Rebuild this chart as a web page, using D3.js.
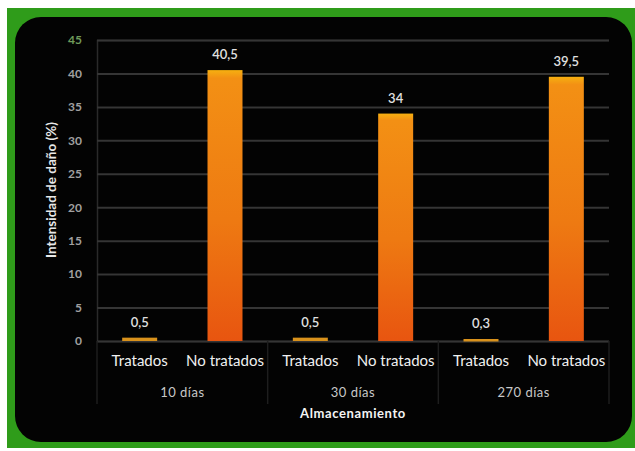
<!DOCTYPE html>
<html><head><meta charset="utf-8">
<script src="https://cdn.jsdelivr.net/npm/d3@7"></script>
<style>html,body{margin:0;padding:0;background:#fff;}svg{display:block;}</style>
</head><body>
<svg id="chart" width="635" height="451"></svg>
<script>
const groups = ["10 días", "30 días", "270 días"];
const treatments = ["Tratados", "No tratados"];
const values = [0.5, 40.5, 0.5, 34, 0.3, 39.5];
const valueLabels = ["0,5", "40,5", "0,5", "34", "0,3", "39,5"];
const yTicks = [0, 5, 10, 15, 20, 25, 30, 35, 40, 45];

const svg = d3.select("#chart");
const W = 635, H = 451;
const F = "Lato, 'Open Sans', sans-serif";

svg.append("rect").attr("x", 7).attr("y", 8).attr("width", W - 7).attr("height", 440).attr("fill", "#2f9c1a");
svg.append("rect").attr("x", 15).attr("y", 17).attr("width", 617).attr("height", 425).attr("rx", 26).attr("fill", "#030303");

const m = {left: 97, right: 609, top: 40, bottom: 341};
const cats = [];
groups.forEach((g, gi) => treatments.forEach((t, ti) => cats.push({g, t, key: gi + "-" + ti})));
const data = cats.map((c, i) => ({...c, v: values[i], lab: valueLabels[i]}));

const x = d3.scaleBand().domain(data.map(d => d.key)).range([m.left, m.right]).paddingInner(0.59).paddingOuter(0.295);
const y = d3.scaleLinear().domain([0, 45]).range([m.bottom, m.top]);

const defs = svg.append("defs");
const gr = defs.append("linearGradient").attr("id", "barg").attr("x1", 0).attr("y1", 0).attr("x2", 0).attr("y2", 1);
gr.append("stop").attr("offset", "0%").attr("stop-color", "#f6b010");
gr.append("stop").attr("offset", "3%").attr("stop-color", "#f39014");
gr.append("stop").attr("offset", "55%").attr("stop-color", "#ee7a12");
gr.append("stop").attr("offset", "100%").attr("stop-color", "#e85510");

// grid
const yAxis = d3.axisLeft(y).tickValues(yTicks).tickSize(-(m.right - m.left)).tickPadding(15);
const ya = svg.append("g").attr("transform", `translate(${m.left},0)`).call(yAxis);
ya.select(".domain").attr("stroke", "#2a2a2a").attr("stroke-width", 1.5);
ya.selectAll(".tick line").attr("stroke", "#353535").attr("stroke-width", 2);
ya.selectAll(".tick text").attr("fill", (d) => d === 45 ? "#6f9a5a" : "#a0a0a0").attr("font-family", F).attr("font-size", 12).attr("font-weight", "bold");

// separators
const sepX = [m.left, (x("0-1") + x.bandwidth() + x("1-0")) / 2, (x("1-1") + x.bandwidth() + x("2-0")) / 2, m.right];
svg.selectAll(".sep").data(sepX).join("line").attr("x1", d => d).attr("x2", d => d)
  .attr("y1", m.bottom).attr("y2", 404).attr("stroke", "#1e1e1e").attr("stroke-width", 1.5);

// bars
svg.selectAll(".bar").data(data).join("rect")
  .attr("x", d => x(d.key)).attr("width", x.bandwidth())
  .attr("y", d => y(d.v)).attr("height", d => Math.max(2.5, y(0) - y(d.v)))
  .attr("fill", d => d.v < 2 ? "#d9921c" : "url(#barg)");

// value labels
svg.selectAll(".vl").data(data).join("text")
  .attr("x", d => x(d.key) + x.bandwidth() / 2).attr("y", d => y(d.v) - 11)
  .attr("text-anchor", "middle").attr("fill", "#e0e0e0").attr("font-family", F).attr("font-size", 13).attr("font-weight", 600)
  .text(d => d.lab);

// category labels
svg.selectAll(".cl").data(data).join("text")
  .attr("x", d => x(d.key) + x.bandwidth() / 2).attr("y", 366)
  .attr("text-anchor", "middle").attr("fill", "#f0f0f0").attr("font-family", F).attr("font-size", 15)
  .text(d => d.t);

// group labels
svg.selectAll(".gl").data(groups).join("text")
  .attr("x", (d, i) => (sepX[i] + sepX[i + 1]) / 2).attr("y", 397)
  .attr("text-anchor", "middle").attr("fill", "#c8c8c8").attr("font-family", F).attr("font-size", 13).attr("letter-spacing", 0.5)
  .text(d => d);

svg.append("text").attr("x", 353).attr("y", 418).attr("text-anchor", "middle").attr("fill", "#f4f4f4")
  .attr("font-family", F).attr("font-size", 13).attr("font-weight", "bold").attr("letter-spacing", 0.6).text("Almacenamiento");

svg.append("text").attr("transform", "translate(56,190) rotate(-90)").attr("text-anchor", "middle").attr("fill", "#e8e8e8")
  .attr("font-family", F).attr("font-size", 13.5).attr("font-weight", "bold").text("Intensidad de daño (%)");
</script>
</body></html>
